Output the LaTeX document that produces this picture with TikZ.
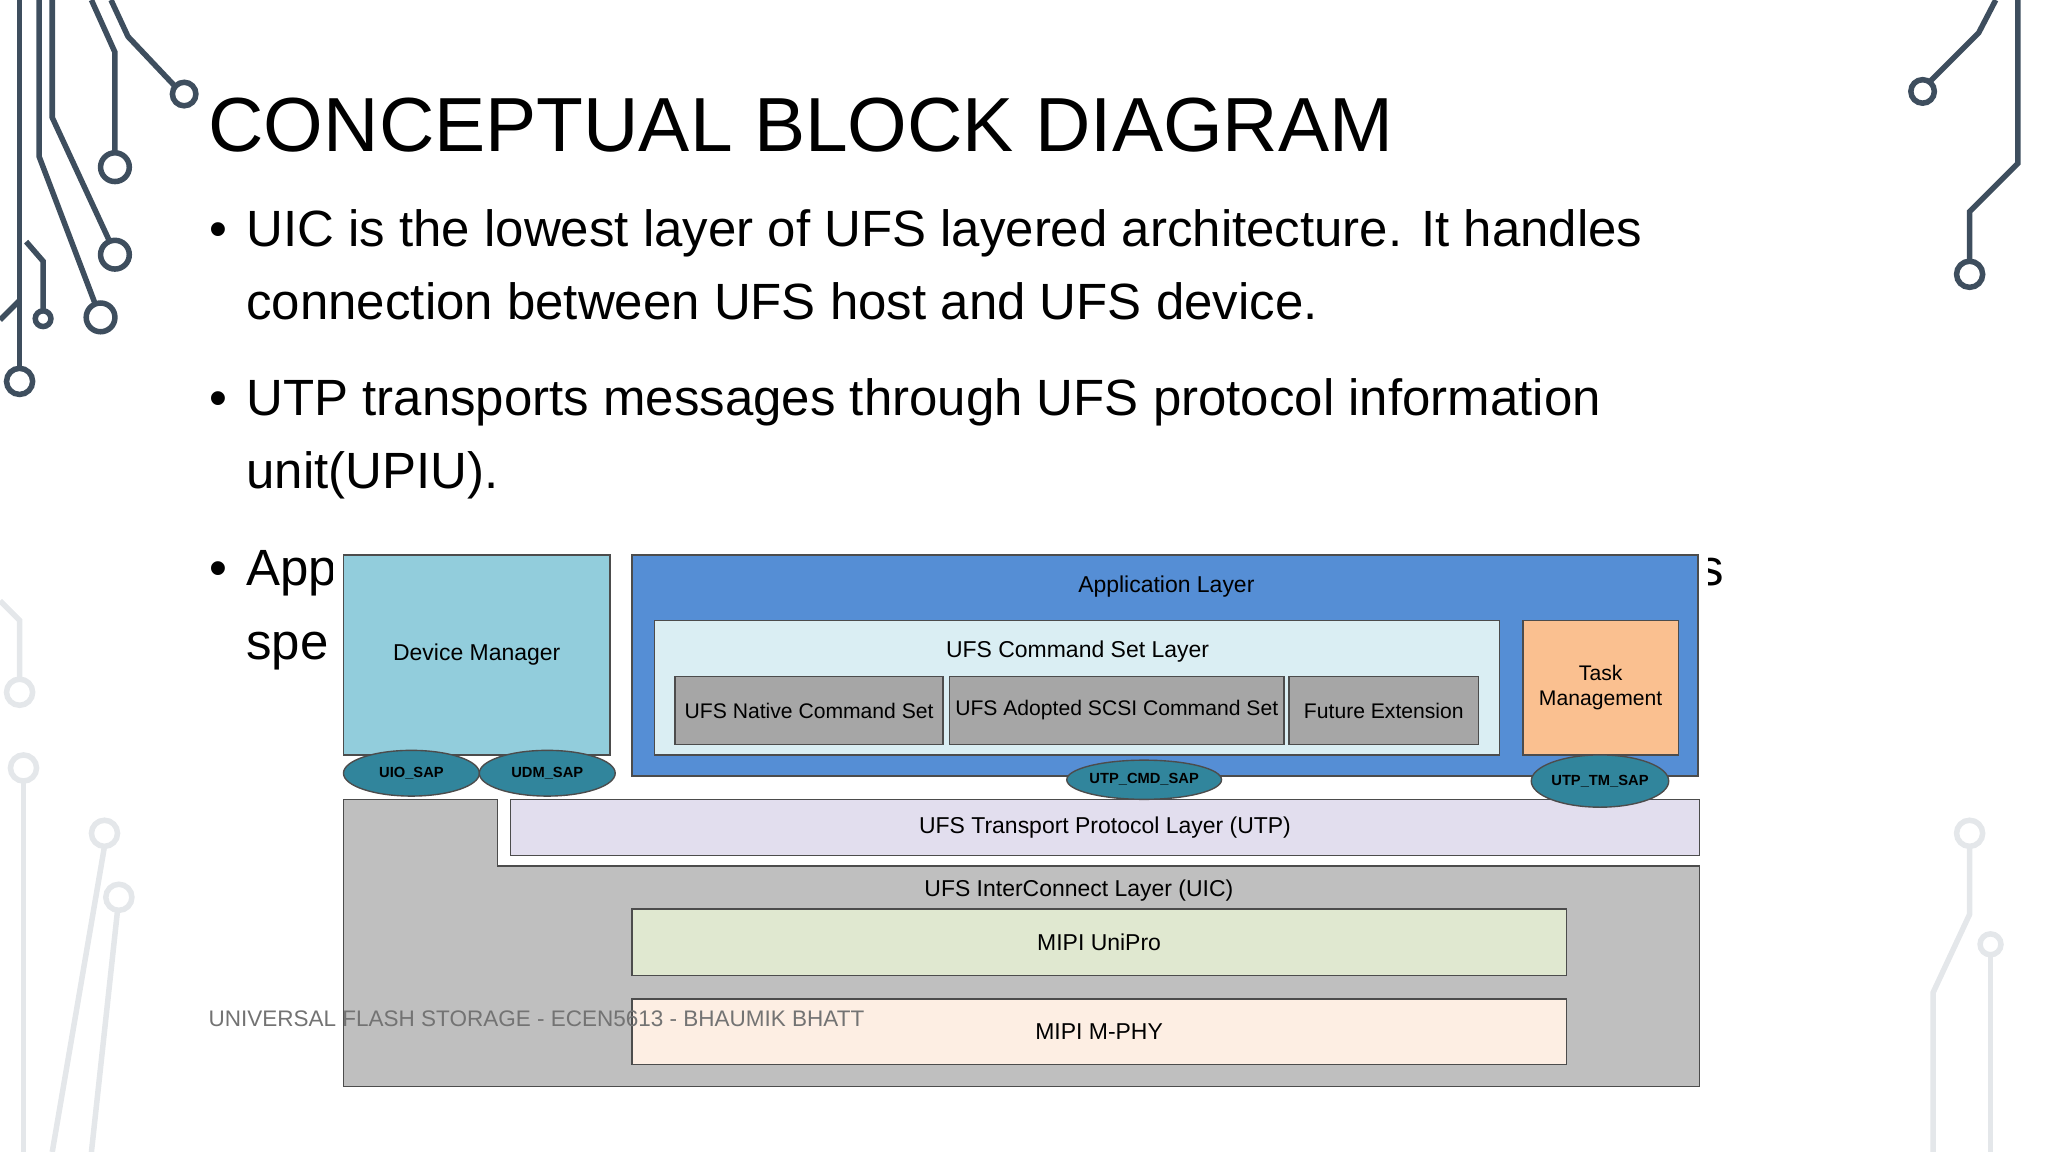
\documentclass[tikz,border=0pt]{standalone}
\usepackage{fontspec}
\setmainfont{Liberation Sans}
\usetikzlibrary{shapes.geometric}
\definecolor{deco}{HTML}{3E4E5E}
\definecolor{decolt}{HTML}{E4E7EA}
\definecolor{dmfill}{HTML}{92CDDC}
\definecolor{appfill}{HTML}{558ED5}
\definecolor{cmdfill}{HTML}{DAEEF3}
\definecolor{grayfill}{HTML}{A6A6A6}
\definecolor{taskfill}{HTML}{FAC090}
\definecolor{sapfill}{HTML}{31859C}
\definecolor{uicfill}{HTML}{BFBFBF}
\definecolor{utpfill}{HTML}{E2DEEE}
\definecolor{uniprofill}{HTML}{E0E8D0}
\definecolor{mphyfill}{HTML}{FDEEE3}
\begin{document}
\begin{tikzpicture}[x=0.01cm,y=-0.01cm,
  box/.style={draw=black!70,line width=0.3pt,inner sep=0pt},
  lbl/.style={font=\fontsize{5pt}{6pt}\selectfont,align=center},
  sml/.style={font=\fontsize{4.6pt}{5.4pt}\selectfont},
  sap/.style={ellipse,draw=black!70,fill=sapfill,line width=0.3pt,inner sep=0pt,
    font=\fontsize{3.2pt}{4pt}\selectfont\bfseries},
  bul/.style={anchor=base west,inner sep=0pt,font=\fontsize{11.1pt}{14pt}\selectfont},
  dl/.style={deco,line width=1.2pt},
  dc/.style={deco,line width=1.2pt,fill=white},
  ll/.style={decolt,line width=1.2pt}]
\useasboundingbox (0,0) rectangle (1568,882);
% decorations
\draw[dl] (15,0)--(15,282); \draw[dc] (15,292) circle (10);
\draw[dl] (30,0)--(30,120)--(73,233); \draw[dc] (77,243) circle (11);
\draw[dl] (40,0)--(40,90)--(84,185); \draw[dc] (88,195) circle (11);
\draw[dl] (70,0)--(88,40)--(88,117); \draw[dc] (88,128) circle (11);
\draw[dl] (85,0)--(98,28)--(133,65); \draw[dc] (141,72) circle (9);
\draw[dl] (20,185)--(33,200)--(33,238); \draw[dc] (33,244) circle (6);
\draw[dl] (0,245)--(15,230);
\draw[dl] (1528,0)--(1515,25)--(1478,62); \draw[dc] (1472,70) circle (9);
\draw[dl] (1545,0)--(1545,125)--(1508,162)--(1508,200); \draw[dc] (1508,210) circle (10);
\draw[ll] (0,460)--(15,475)--(15,520); \draw[ll,fill=white] (15,530) circle (10);
\draw[ll] (18,598)--(18,882); \draw[ll,fill=white] (18,588) circle (10);
\draw[ll] (80,648)--(40,882); \draw[ll,fill=white] (80,638) circle (10);
\draw[ll] (90,697)--(70,882); \draw[ll,fill=white] (91,687) circle (10);
\draw[ll] (1508,648)--(1508,700)--(1480,760)--(1480,882); \draw[ll,fill=white] (1508,638) circle (10);
\draw[ll] (1524,733)--(1524,882); \draw[ll,fill=white] (1524,723) circle (8);
% title and bullets
\node[anchor=base west,font=\fontsize{16.7pt}{20pt}\selectfont,inner sep=0pt] (title) at (159,116) {CONCEPTUAL BLOCK DIAGRAM};
\node[bul] (b1) at (160,189) {\textbullet};
\node[bul] (t1) at (188,189) {UIC is the lowest layer of UFS layered architecture. It handles};
\node[bul] (t1b) at (188,245) {connection between UFS host and UFS device.};
\node[bul] (b2) at (160,318) {\textbullet};
\node[bul] (t2) at (188,318) {UTP transports messages through UFS protocol information};
\node[bul] (t2b) at (188,374) {unit(UPIU).};
\node[bul] (b3) at (160,448) {\textbullet};
\node[bul] (t3) at (188,448) {App};
\node[bul] (t3b) at (188,505) {spe};
\node[bul] (t3c) at (1300,448) {s};
% diagram
\fill[white] (255,418) rectangle (1308,840);
\draw[box,fill=uicfill] (263,612)--(381,612)--(381,663)--(1301,663)--(1301,832)--(263,832)--cycle;
\node[box,fill=dmfill,minimum width=2.04cm,minimum height=1.53cm,lbl] (dm) at (365,501.5) {Device Manager};
\draw[box,fill=appfill] (484,425) rectangle (1300,594);
\node[lbl] (app) at (893,449) {Application Layer};
\draw[box,fill=cmdfill] (501,475) rectangle (1148,578);
\node[lbl] (cmd) at (825,499) {UFS Command Set Layer};
\node[box,fill=grayfill,minimum width=2.05cm,minimum height=0.52cm,lbl,sml] (nat) at (619.5,544) {UFS Native Command Set};
\node[box,fill=grayfill,minimum width=2.56cm,minimum height=0.52cm,lbl,sml] (scsi) at (855,544) {UFS Adopted SCSI Command Set};
\node[box,fill=grayfill,minimum width=1.45cm,minimum height=0.52cm,lbl,sml] (fut) at (1059.5,544) {Future Extension};
\node[box,fill=taskfill,minimum width=1.19cm,minimum height=1.03cm,lbl,sml] (task) at (1225.5,526.5) {Task\\Management};
\node[box,fill=utpfill,minimum width=9.10cm,minimum height=0.43cm,lbl] (utp) at (846,633.5) {UFS Transport Protocol Layer (UTP)};
\node[lbl] (uic) at (826,682) {UFS InterConnect Layer (UIC)};
\node[box,fill=uniprofill,minimum width=7.15cm,minimum height=0.51cm,lbl] (unipro) at (841.5,721.5) {MIPI UniPro};
\node[box,fill=mphyfill,minimum width=7.15cm,minimum height=0.50cm,lbl] (mphy) at (841.5,790) {MIPI M-PHY};
\node[sap,minimum width=1.04cm,minimum height=0.35cm] (uio) at (315,592) {UIO\_SAP};
\node[sap,minimum width=1.04cm,minimum height=0.35cm] (udm) at (419,592) {UDM\_SAP};
\node[sap,minimum width=1.00cm,minimum height=0.30cm] (utpcmd) at (876,597) {UTP\_CMD\_SAP};
\node[sap,minimum width=1.04cm,minimum height=0.40cm] (utptm) at (1225,598) {UTP\_TM\_SAP};
% footer
\node[anchor=base west,inner sep=0pt,text=black!55,font=\fontsize{4.9pt}{6pt}\selectfont] (foot) at (159,786) {UNIVERSAL FLASH STORAGE - ECEN5613 - BHAUMIK BHATT};
\end{tikzpicture}
\end{document}
